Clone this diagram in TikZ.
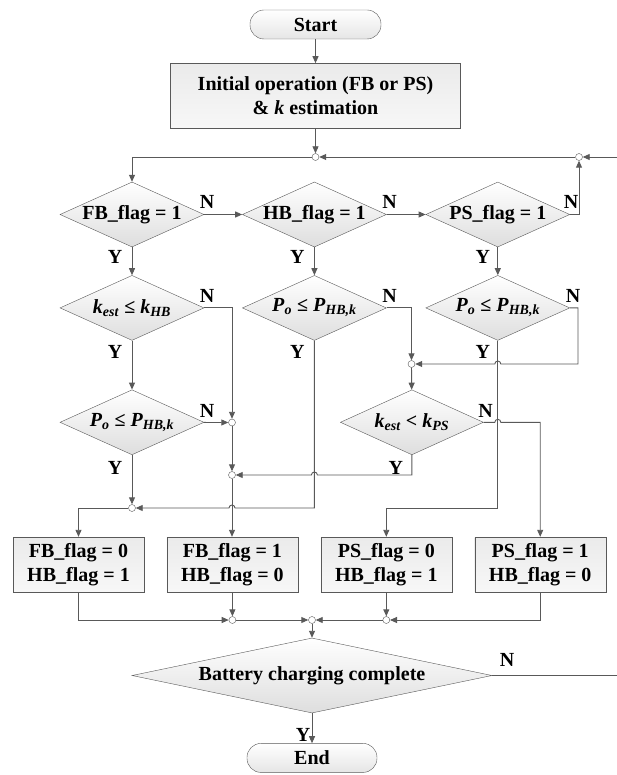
\documentclass[tikz,border=0pt]{standalone}
\usepackage{fontspec}
\setmainfont{Liberation Serif}
\usetikzlibrary{shapes.geometric,arrows.meta,positioning,calc}
\newcommand{\qsub}[2]{\textit{#1}\textsubscript{\textit{#2}}}

\begin{document}
\begin{tikzpicture}[
  x=1pt, y=1pt,
  font=\fontsize{20}{24}\selectfont\bfseries,
  >={Triangle[length=7pt, width=6pt]},
  term/.style={rectangle, rounded corners=14pt, draw=black!65, top color=white, bottom color=black!10,
               minimum width=131pt, minimum height=29pt, inner sep=0pt},
  proc/.style={rectangle, draw=black!65, top color=black!8, bottom color=black!3,
               minimum width=131pt, minimum height=55pt, align=center, inner sep=0pt},
  dec/.style={diamond, draw=black!65, top color=white, bottom color=black!13, aspect=2.2,
              minimum width=144pt, minimum height=65pt, inner sep=0pt},
  jn/.style={circle, draw=black!65, fill=white, minimum size=7pt, inner sep=0pt},
  link/.style={->, draw=black!65, line width=0.9pt},
  lbl/.style={inner sep=0pt},
]
\useasboundingbox (0,0) rectangle (616,-775);

\node[term] (start) at (315.5,-24.5) {Start};
\node[proc, below=24pt of start, minimum width=290pt, minimum height=65pt] (init)
  {Initial operation (FB or PS)\\\& \textit{k} estimation};
\node[jn] (j0) at (315.5,-157) {};
\node[jn] (j1) at (579,-157) {};

% mode checks
\node[dec] (fb) at (132,-214.5) {FB\_flag = 1};
\node[dec, right=38pt of fb] (hb) {HB\_flag = 1};
\node[dec, right=39pt of hb] (ps) {PS\_flag = 1};

\node[dec, below=28pt of fb] (khb)  {\qsub{k}{est} ≤ \qsub{k}{HB}};
\node[dec, below=28pt of hb] (pohb) {\qsub{P}{o} ≤ \qsub{P}{HB,k}};
\node[dec, below=28pt of ps] (pops) {\qsub{P}{o} ≤ \qsub{P}{HB,k}};

\node[dec, below=49pt of khb] (pofb) {\qsub{P}{o} ≤ \qsub{P}{HB,k}};
\node[dec, right=136pt of pofb, minimum width=143pt] (kps) {\qsub{k}{est} < \qsub{k}{PS}};

\node[jn] (j2) at (232,-422.5) {};
\node[jn] (j3) at (232,-475) {};
\node[jn] (j4) at (132,-508) {};
\node[jn] (j5) at (411.5,-364) {};

% flag updates
\node[proc] (b1) at (78.5,-564.5) {FB\_flag = 0\\HB\_flag = 1};
\node[proc, right=22.5pt of b1] (b2) {FB\_flag = 1\\HB\_flag = 0};
\node[proc, right=22.5pt of b2] (b3) {PS\_flag = 0\\HB\_flag = 1};
\node[proc, right=22.5pt of b3] (b4) {PS\_flag = 1\\HB\_flag = 0};

\node[jn] (jb1) at (b2 |- 0,-620) {};
\node[jn] (jb2) at (312,-620) {};
\node[jn] (jb3) at (b3 |- 0,-620) {};

\node[dec, aspect=4.8, minimum width=360pt, minimum height=75pt] (batt) at (312,-675.5)
  {Battery charging complete};
\node[term, below=30pt of batt, minimum width=130pt] (end) {End};

\draw[link] (start) -- (init);
\draw[link] (init) -- (j0);
\draw[link] (j1) -- (j0);
\draw[link] (j0) -| (fb);
\draw[link] (fb) -- (hb);
\draw[link] (hb) -- (ps);
\draw[link] (ps) -| (j1);
\draw[link] (batt.east) -- ++(130,0) |- (j1);

\draw[link] (fb) -- (khb);
\draw[link] (hb) -- (pohb);
\draw[link] (ps) -- (pops);
\draw[link] (khb) -- (pofb);

\draw[link] (khb) -| (j2);
\draw[link] (pofb) -- (j2);
\draw[link] (j2) -- (j3);
\draw[link] (j3) -- (j3 |- b2.north);
\draw[link] (pofb) -- (j4);
\draw[link] (j4) -| (b1);

\draw[link] (pohb) -| (j5);
\draw[link] (pops.east) -- ++(8,0) |- ($(pops.south |- j5)+(3,0)$)
  arc[start angle=0, end angle=180, radius=3] -- (j5);
\draw[link] (j5) -- (kps);
\draw[link] (kps.south) -- (kps.south |- j3) -- ($(pohb.south |- j3)+(3,0)$)
  arc[start angle=0, end angle=180, radius=3] -- (j3);
\draw[link] (pohb.south) -- (pohb.south |- j4) -- ($(j3 |- j4)+(3,0)$)
  arc[start angle=0, end angle=180, radius=3] -- (j4);
\draw[link] (pops.south) |- (j4 -| b3.north) -- (b3.north);
\draw[link] (kps.east) -- ($(pops.south |- kps.east)+(-3,0)$)
  arc[start angle=180, end angle=0, radius=3] -| (b4);

\draw[link] (b1) |- (jb1);
\draw[link] (b2) -- (jb1);
\draw[link] (jb1) -- (jb2);
\draw[link] (b3) -- (jb3);
\draw[link] (b4) |- (jb3);
\draw[link] (jb3) -- (jb2);
\draw[link] (jb2) -- (batt);
\draw[link] (batt) -- (end);

% branch labels
\node[lbl] at ($(fb.east)+(3,12.5)$) {N};
\node[lbl] at ($(hb.east)+(3,12.5)$) {N};
\node[lbl] at ($(ps.east)+(1,12.5)$) {N};
\node[lbl] at ($(khb.east)+(3,12)$) {N};
\node[lbl] at ($(pohb.east)+(3,12)$) {N};
\node[lbl] at ($(pops.east)+(3,12)$) {N};
\node[lbl] at ($(pofb.east)+(3,11)$) {N};
\node[lbl] at ($(kps.east)+(2,11)$) {N};
\node[lbl] at ($(batt.east)+(15,15.5)$) {N};

\node[lbl] at ($(fb.south)+(-17,-10)$) {Y};
\node[lbl] at ($(hb.south)+(-17,-10)$) {Y};
\node[lbl] at ($(ps.south)+(-15,-10)$) {Y};
\node[lbl] at ($(khb.south)+(-17,-11)$) {Y};
\node[lbl] at ($(pohb.south)+(-17,-11)$) {Y};
\node[lbl] at ($(pops.south)+(-15,-11)$) {Y};
\node[lbl] at ($(pofb.south)+(-17,-13)$) {Y};
\node[lbl] at ($(kps.south)+(-16,-13)$) {Y};
\node[lbl] at ($(batt.south)+(-9,-22)$) {Y};

\end{tikzpicture}
\end{document}
